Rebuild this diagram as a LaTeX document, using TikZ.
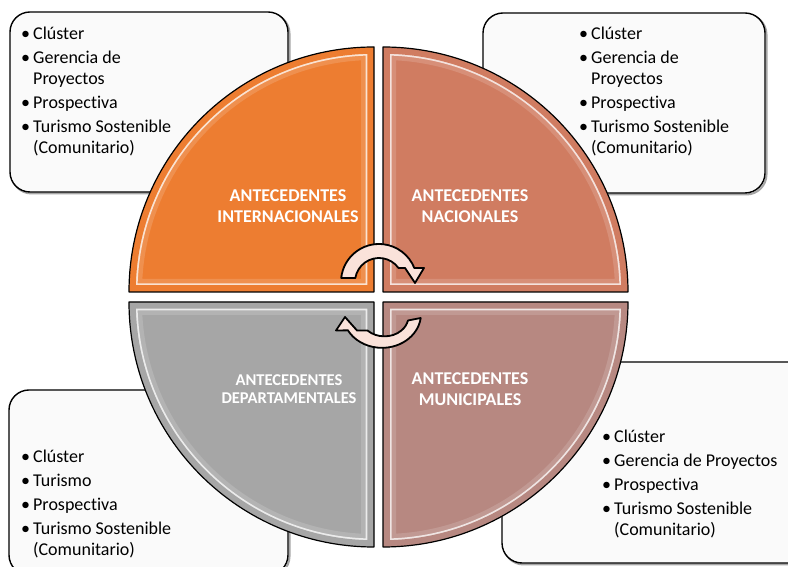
\documentclass[tikz,border=0pt]{standalone}
\usepackage{fontspec}
\setmainfont{Carlito}[Ligatures=NoCommon]
\usetikzlibrary{calc}
\definecolor{qorange}{RGB}{237,125,49}
\definecolor{qsalmon}{RGB}{208,124,97}
\definecolor{qgray}{RGB}{166,166,166}
\definecolor{qrose}{RGB}{183,136,129}
\definecolor{arrowfill}{RGB}{250,226,218}
\definecolor{boxfill}{RGB}{250,250,250}
\tikzset{
  infobox/.style={draw=black, line width=1.4pt, rounded corners=20pt, fill=boxfill},
  boxshadow/.style={draw=black!35, line width=2pt, rounded corners=20pt},
  itemtext/.style={anchor=north west, inner sep=0pt, font=\fontsize{18}{21}\selectfont},
  qlabel/.style={text=white, align=center, inner sep=0pt, font=\bfseries\fontsize{18}{21}\selectfont},
  cyc/.style={draw=black, line width=1.8pt, fill=arrowfill, line join=round},
}
\newcommand\drawquad[4]{%
  \begin{scope}
    \clip (#1) -- ($(#1)+(#2:245)$) arc[start angle=#2,end angle=#3,radius=245] -- cycle;
    \fill[#4] (#1) -- ($(#1)+(#2:245)$) arc[start angle=#2,end angle=#3,radius=245] -- cycle;
    \draw[white, opacity=.15, line width=26pt] (#1) -- ($(#1)+(#2:245)$) arc[start angle=#2,end angle=#3,radius=245] -- cycle;
    \draw[white, opacity=.75, line width=17pt] (#1) -- ($(#1)+(#2:245)$) arc[start angle=#2,end angle=#3,radius=245] -- cycle;
    \draw[#4, line width=13.5pt] (#1) -- ($(#1)+(#2:245)$) arc[start angle=#2,end angle=#3,radius=245] -- cycle;
  \end{scope}
  \draw[black, line width=1.2pt, line join=round] (#1) -- ($(#1)+(#2:245)$) arc[start angle=#2,end angle=#3,radius=245] -- cycle;
}
\newcommand\bl{\textbullet}
\begin{document}
\begin{tikzpicture}[x=1pt,y=1pt]
\useasboundingbox (0,0) rectangle (788,567);
\clip (0,0) rectangle (788,567);
\fill[white] (0,0) rectangle (788,567);

% boxes
\draw[boxshadow] (11.5,373.5) rectangle (289.5,553.5);
\draw[infobox] (10,375) rectangle (288,555);
\draw[boxshadow] (484.5,372.5) rectangle (766.5,552.5);
\draw[infobox] (483,374) rectangle (765,554);
\draw[boxshadow] (10.5,-9.5) rectangle (289.5,175.5);
\draw[infobox] (9,-8) rectangle (288,177);
\draw[boxshadow] (503.5,2.5) rectangle (811.5,203.5);
\draw[infobox] (502,4) rectangle (810,205);

% quadrants
\coordinate (tl) at (374,275);
\coordinate (tr) at (383,275);
\coordinate (bl) at (374,265);
\coordinate (br) at (383,265);
\drawquad{tl}{180}{90}{qorange}
\drawquad{tr}{0}{90}{qsalmon}
\drawquad{bl}{180}{270}{qgray}
\drawquad{br}{0}{-90}{qrose}

% cycle arrows
\coordinate (c1) at (379,285);
\coordinate (c2) at (382,253);
\draw[cyc] ($(c1)+(173.8:38)$) arc[start angle=173.8,end angle=21.6,radius=38]
  -- ($(c1)+(45,14)$) -- ($(c1)+(36,-1)$) -- ($(c1)+(26,14)$) -- ($(c1)+(35.7:24)$)
  arc[start angle=35.7,end angle=170.4,radius=24] -- cycle;
\draw[cyc] ($(c2)+(38.7,-4)$) arc[start angle=-7,end angle=-151,x radius=39,y radius=34]
  -- ($(c2)+(-46,-16.5)$) -- ($(c2)+(-37,-3)$) -- ($(c2)+(-25,-16.5)$) -- ($(c2)+(-14.5,-16.5)$)
  arc[start angle=-135,end angle=-12,x radius=24,y radius=20] -- cycle;

% quadrant labels
\node[qlabel] (ltl) at (288,360.5) {ANTECEDENTES\\INTERNACIONALES};
\node[qlabel] (ltr) at (470,360.5) {ANTECEDENTES\\NACIONALES};
\node[qlabel, font=\bfseries\fontsize{16.5}{18}\selectfont] (lbl) at (289,178) {ANTECEDENTES\\DEPARTAMENTALES};
\node[qlabel] (lbr) at (470,177.5) {ANTECEDENTES\\MUNICIPALES};

% box texts
\node[itemtext] (ttl) at (21,542.7) {\begin{tabular}{@{}p{12pt}@{}l@{}}
\bl & Clúster\\[3pt]
\bl & Gerencia de\\
    & Proyectos\\[3pt]
\bl & Prospectiva\\[3pt]
\bl & Turismo Sostenible\\
    & (Comunitario)
\end{tabular}};
\node[itemtext] (ttr) at (579,542.7) {\begin{tabular}{@{}p{12pt}@{}l@{}}
\bl & Clúster\\[3pt]
\bl & Gerencia de\\
    & Proyectos\\[3pt]
\bl & Prospectiva\\[3pt]
\bl & Turismo Sostenible\\
    & (Comunitario)
\end{tabular}};
\node[itemtext] (tbl) at (21,119.7) {\begin{tabular}{@{}p{12pt}@{}l@{}}
\bl & Clúster\\[3pt]
\bl & Turismo\\[3pt]
\bl & Prospectiva\\[3pt]
\bl & Turismo Sostenible\\
    & (Comunitario)
\end{tabular}};
\node[itemtext] (tbr) at (602,139.7) {\begin{tabular}{@{}p{12pt}@{}l@{}}
\bl & Clúster\\[3pt]
\bl & Gerencia de Proyectos\\[3pt]
\bl & Prospectiva\\[3pt]
\bl & Turismo Sostenible\\
    & (Comunitario)
\end{tabular}};
\end{tikzpicture}
\end{document}
